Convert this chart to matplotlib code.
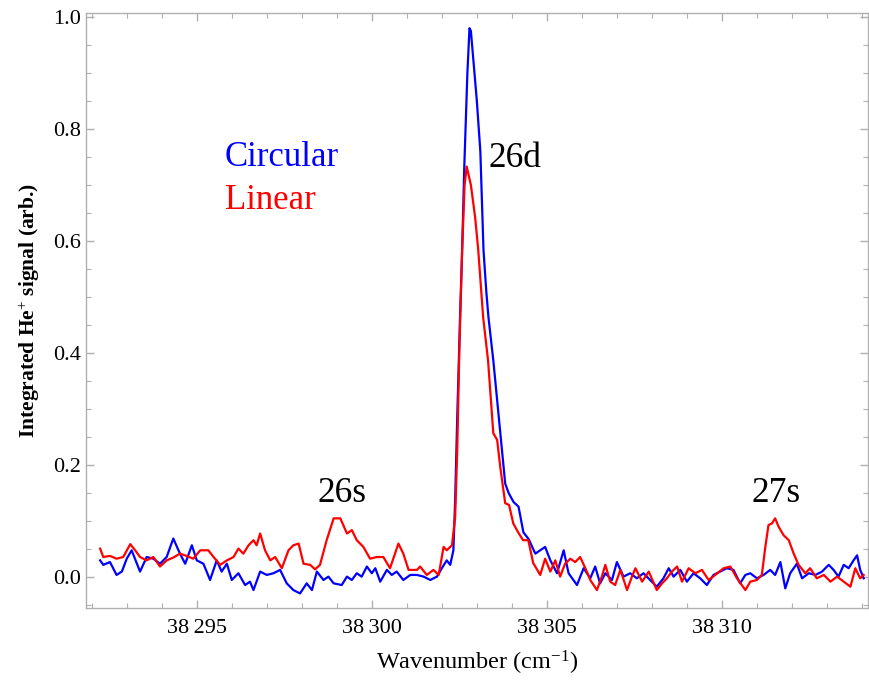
import numpy as np
import matplotlib
matplotlib.use("Agg")
import matplotlib.pyplot as plt
from matplotlib import ticker

plt.rcParams['font.family'] = ['Liberation Serif', 'DejaVu Serif']
plt.rcParams['mathtext.fontset'] = 'custom'
plt.rcParams['mathtext.rm'] = 'Liberation Serif'
plt.rcParams['mathtext.it'] = 'Liberation Serif:italic'
plt.rcParams['mathtext.bf'] = 'Liberation Serif:bold'

# circular polarisation (blue)
wn_circ = [38292.23, 38292.32, 38292.51, 38292.70, 38292.85, 38292.99, 38293.13, 38293.37,
           38293.56, 38293.75, 38293.94, 38294.13, 38294.32, 38294.51, 38294.66, 38294.85,
           38294.99, 38295.18, 38295.37, 38295.56, 38295.70, 38295.85, 38295.99, 38296.18,
           38296.37, 38296.51, 38296.61, 38296.80, 38296.99, 38297.18, 38297.37, 38297.56,
           38297.75, 38297.94, 38298.13, 38298.28, 38298.42, 38298.61, 38298.75, 38298.90,
           38299.13, 38299.28, 38299.42, 38299.56, 38299.70, 38299.85, 38299.99, 38300.09,
           38300.23, 38300.42, 38300.56, 38300.70, 38300.89, 38301.09, 38301.28, 38301.47,
           38301.66, 38301.85, 38301.99, 38302.13, 38302.23, 38302.32,
           38302.37, 38302.43, 38302.51, 38302.57, 38302.63, 38302.72, 38302.78, 38302.82,
           38302.99, 38303.09, 38303.18, 38303.26, 38303.32, 38303.46, 38303.57, 38303.71,
           38303.80, 38303.90, 38304.04, 38304.18, 38304.32, 38304.47, 38304.66, 38304.80,
           38304.94, 38305.09, 38305.28, 38305.47, 38305.61, 38305.85, 38306.04, 38306.23,
           38306.37, 38306.51, 38306.66, 38306.85, 38306.99, 38307.18, 38307.37, 38307.56,
           38307.75, 38307.94, 38308.13, 38308.32, 38308.47, 38308.61, 38308.80, 38308.99,
           38309.18, 38309.37, 38309.56, 38309.75, 38309.94, 38310.13, 38310.32, 38310.51,
           38310.66, 38310.80, 38310.99, 38311.18, 38311.37, 38311.51, 38311.66, 38311.80,
           38311.94, 38312.13, 38312.28, 38312.47, 38312.66, 38312.85, 38313.04, 38313.18,
           38313.32, 38313.47, 38313.61, 38313.75, 38313.85, 38313.94, 38314.04]
sig_circ = [0.030, 0.022, 0.027, 0.004, 0.010, 0.033, 0.048, 0.010,
            0.036, 0.033, 0.024, 0.036, 0.069, 0.042, 0.024, 0.057,
            0.030, 0.024, -0.005, 0.030, 0.010, 0.024, -0.005, 0.007,
            -0.014, -0.008, -0.023, 0.010, 0.004, 0.007, 0.013, -0.011,
            -0.023, -0.029, -0.011, -0.023, 0.010, -0.005, 0.001, -0.011,
            -0.014, 0.001, -0.005, 0.007, 0.001, 0.019, 0.007, 0.016,
            -0.008, 0.013, 0.004, 0.010, -0.005, 0.004, 0.004, 0.001,
            -0.005, 0.001, 0.016, 0.030, 0.022, 0.048,
            0.137, 0.286, 0.464, 0.584, 0.730, 0.900, 0.980, 0.975,
            0.850, 0.760, 0.584, 0.510, 0.465, 0.387, 0.316, 0.227,
            0.167, 0.150, 0.134, 0.126, 0.080, 0.068, 0.042, 0.048,
            0.054, 0.030, 0.007, 0.048, 0.007, -0.014, 0.016, -0.002,
            0.019, -0.011, 0.007, -0.005, 0.027, 0.001, 0.007, -0.002,
            0.007, -0.005, -0.017, -0.002, 0.016, 0.001, 0.013, -0.008,
            0.007, -0.002, -0.014, 0.004, 0.010, 0.016, 0.013, -0.011,
            0.004, 0.007, -0.002, 0.004, 0.013, 0.004, 0.027, -0.020,
            0.007, 0.024, -0.002, 0.007, 0.004, 0.010, 0.022, 0.013,
            0.001, 0.022, 0.016, 0.030, 0.039, 0.013, -0.002]

# linear polarisation (red)
wn_lin = [38292.23, 38292.32, 38292.51, 38292.70, 38292.89, 38293.09, 38293.23, 38293.37,
          38293.56, 38293.75, 38293.94, 38294.13, 38294.32, 38294.51, 38294.70, 38294.89,
          38295.09, 38295.32, 38295.47, 38295.66, 38295.85, 38296.04, 38296.18, 38296.32,
          38296.47, 38296.61, 38296.70, 38296.80, 38296.94, 38297.09, 38297.23, 38297.42,
          38297.61, 38297.75, 38297.90, 38298.04, 38298.23, 38298.37, 38298.51, 38298.70,
          38298.90, 38299.09, 38299.28, 38299.42, 38299.56, 38299.75, 38299.94, 38300.13,
          38300.32, 38300.51, 38300.75, 38300.89, 38301.04, 38301.28, 38301.37, 38301.56,
          38301.75, 38301.90, 38302.04, 38302.13, 38302.28,
          38302.37, 38302.43, 38302.49, 38302.57, 38302.64, 38302.70, 38302.82, 38302.94,
          38303.03, 38303.17, 38303.31, 38303.46, 38303.57, 38303.66, 38303.80, 38303.91,
          38304.03, 38304.17, 38304.31, 38304.46, 38304.60, 38304.66, 38304.80,
          38304.94, 38305.09, 38305.23, 38305.37, 38305.51, 38305.66, 38305.80, 38305.94,
          38306.09, 38306.23, 38306.42, 38306.56, 38306.66, 38306.80, 38306.94, 38307.09,
          38307.28, 38307.42, 38307.52, 38307.71, 38307.90, 38308.13, 38308.28, 38308.42,
          38308.56, 38308.71, 38308.85, 38309.04, 38309.23, 38309.42, 38309.61, 38309.80,
          38310.04, 38310.23, 38310.42, 38310.66, 38310.80, 38310.99, 38311.13, 38311.23,
          38311.32, 38311.42, 38311.51, 38311.61, 38311.75, 38311.90, 38312.04, 38312.18,
          38312.37, 38312.51, 38312.70, 38312.90, 38313.09, 38313.28, 38313.47, 38313.66,
          38313.80, 38313.94, 38314.04]
sig_lin = [0.051, 0.036, 0.038, 0.033, 0.036, 0.059, 0.048, 0.036,
           0.030, 0.036, 0.019, 0.030, 0.035, 0.042, 0.038, 0.033,
           0.048, 0.048, 0.036, 0.022, 0.030, 0.036, 0.051, 0.042,
           0.057, 0.066, 0.057, 0.078, 0.048, 0.030, 0.036, 0.016,
           0.048, 0.057, 0.060, 0.024, 0.022, 0.014, 0.022, 0.066,
           0.105, 0.105, 0.078, 0.084, 0.066, 0.054, 0.033, 0.036,
           0.036, 0.016, 0.060, 0.042, 0.013, 0.013, 0.019, 0.004,
           0.013, 0.004, 0.054, 0.048, 0.057,
           0.107, 0.227, 0.405, 0.584, 0.700, 0.733, 0.700, 0.643,
           0.584, 0.464, 0.387, 0.257, 0.245, 0.196, 0.132, 0.129,
           0.096, 0.080, 0.066, 0.066, 0.025, 0.019, 0.004,
           0.033, 0.010, 0.030, 0.001, 0.024, 0.033, 0.027, 0.036,
           0.016, -0.005, -0.023, 0.001, 0.022, -0.008, -0.014, 0.013,
           -0.023, 0.001, 0.016, -0.008, 0.010, -0.023, -0.011, -0.002,
           0.010, 0.019, -0.008, 0.016, 0.007, 0.013, -0.005, 0.004,
           0.016, 0.019, -0.002, -0.023, -0.008, -0.005, 0.004, 0.054,
           0.093, 0.096, 0.105, 0.090, 0.075, 0.066, 0.042, 0.022,
           0.007, 0.016, -0.002, 0.004, -0.008, 0.001, -0.008, -0.017,
           0.016, -0.002, 0.004]

xticks_major = [38295, 38300, 38305, 38310]
xtick_labels = ['38\u2009295', '38\u2009300', '38\u2009305', '38\u2009310']

fig = plt.figure(figsize=(8.7, 6.87), dpi=100)
ax = fig.add_axes([0.099, 0.115, 0.899, 0.866])

ax.plot(wn_circ, sig_circ, color='#0000ff', lw=1.6)
ax.plot(wn_lin, sig_lin, color='#ff0000', lw=1.6)

ax.set_xlim(38291.83, 38314.17)
ax.set_ylim(-0.055, 1.007)

ax.xaxis.set_major_locator(ticker.FixedLocator(xticks_major))
ax.xaxis.set_major_formatter(ticker.FixedFormatter(xtick_labels))
ax.xaxis.set_minor_locator(ticker.MultipleLocator(1))
ax.yaxis.set_major_locator(ticker.MultipleLocator(0.2))
ax.yaxis.set_minor_locator(ticker.MultipleLocator(0.05))
ax.yaxis.set_major_formatter(ticker.FormatStrFormatter('%.1f'))

for s in ax.spines.values():
    s.set_color('#b0b0b0')
    s.set_linewidth(1.0)
ax.tick_params(which='both', direction='in', top=True, right=True,
               color='#b0b0b0', labelsize=16)
ax.tick_params(which='major', length=6, width=1.0)
ax.tick_params(which='minor', length=3.5, width=0.8)
ax.tick_params(axis='x', pad=8)

ax.set_xlabel('Wavenumber (cm$^{-1}$)', fontsize=17.5, labelpad=8)
ax.set_ylabel('Integrated He$^{+}$ signal (arb.)', fontsize=15.5, fontweight='bold', labelpad=8)

ax.text(38295.8, 0.75, 'Circular', color='#0000ff', fontsize=25, va='center')
ax.text(38295.8, 0.673, 'Linear', color='#ff0000', fontsize=25, va='center')
ax.text(38303.31, 0.748, '26d', fontsize=25.5, va='center')
ax.text(38299.14, 0.15, '26s', fontsize=25.5, va='center', ha='center')
ax.text(38311.54, 0.15, '27s', fontsize=25.5, va='center', ha='center')

fig.savefig('out.png', dpi=100)
